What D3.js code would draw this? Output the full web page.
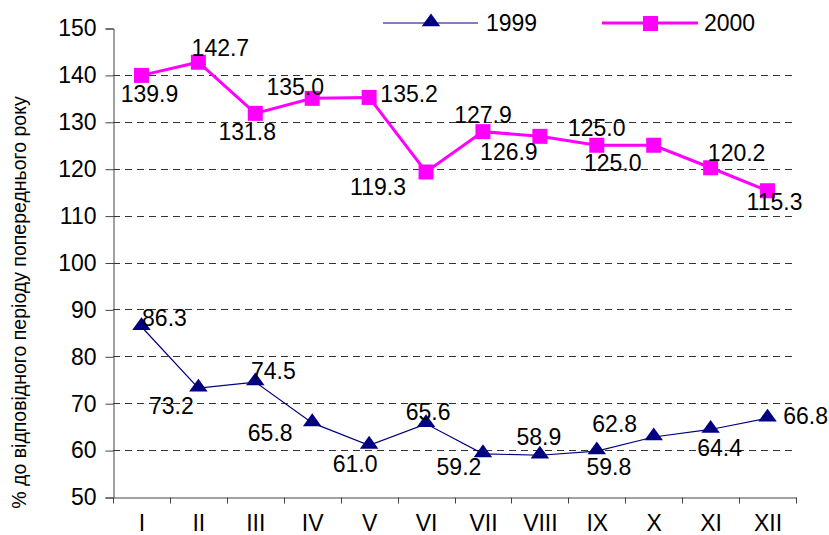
<!DOCTYPE html>
<html>
<head>
<meta charset="utf-8">
<script src="https://cdn.jsdelivr.net/npm/d3@7"></script>
<style>
  body { margin: 0; background: #fff; }
  text { font-family: "Liberation Sans", Arial, sans-serif; fill: #000; }
</style>
</head>
<body>
<svg id="vis"></svg>
<script>
const WIDTH = 829;
const HEIGHT = 535;

// дані
const months = ["I", "II", "III", "IV", "V", "VI", "VII", "VIII", "IX", "X", "XI", "XII"];
const values1999 = [86.3, 73.2, 74.5, 65.8, 61.0, 65.6, 59.2, 58.9, 59.8, 62.8, 64.4, 66.8];
const values2000 = [139.9, 142.7, 131.8, 135.0, 135.2, 119.3, 127.9, 126.9, 125.0, 125.0, 120.2, 115.3];
const yTicks = [50, 60, 70, 80, 90, 100, 110, 120, 130, 140, 150];
const gridTicks = [60, 70, 80, 90, 100, 110, 120, 130, 140];
const seriesNames = ["1999", "2000"];
const yTitle = "% до відповідного періоду попереднього року";

// зсуви підписів відносно точки (центр тексту)
const labelOff1999 = [[23, -9], [-27, 18], [18, -11], [-42, 10], [-14, 18], [2, -12], [-24, 13], [-1, -19], [12, 16], [-39, -13], [9, 18], [38, -2]];
const labelOff2000 = [[8, 18], [22, -15], [-8, 18], [-17, -12], [40, -4], [-48, 15], [0, -17], [-31, 15], [0, -18], [-41, 17], [26, -15], [7, 11]];

const FS = 23;
const margin = { left: 113, right: 33, top: 28, bottom: 38 };

const svg = d3.select("#vis")
    .attr("width", WIDTH)
    .attr("height", HEIGHT);

const x = d3.scaleBand()
    .domain(months)
    .range([margin.left, WIDTH - margin.right]);

const y = d3.scaleLinear()
    .domain([50, 150])
    .range([HEIGHT - margin.bottom, margin.top]);

const cx = d => x(d) + x.bandwidth() / 2;

// сітка
svg.append("g")
    .selectAll("line")
    .data(gridTicks)
    .join("line")
    .attr("x1", margin.left)
    .attr("x2", WIDTH - margin.right)
    .attr("y1", d => Math.round(y(d)) + 0.5)
    .attr("y2", d => Math.round(y(d)) + 0.5)
    .attr("stroke", "#333")
    .attr("stroke-width", 1)
    .attr("stroke-dasharray", "7,5");

// осі
const ejeY = d3.axisLeft(y).tickValues(yTicks).tickSize(8).tickPadding(9);
const gy = svg.append("g")
    .attr("transform", `translate(${margin.left + 0.5},0.5)`)
    .call(ejeY);
gy.select(".domain").attr("stroke", "#444");
gy.selectAll(".tick line").attr("stroke", "#444");
gy.selectAll("text").attr("font-size", FS).attr("font-family", "Liberation Sans, Arial, sans-serif");

const ejeX = d3.axisBottom(x).tickSize(0).tickPadding(17);
const gx = svg.append("g")
    .attr("transform", `translate(0.5,${Math.round(y(50)) + 0.5})`)
    .call(ejeX);
gx.select(".domain").attr("stroke", "#444");
gx.selectAll("text").attr("font-size", FS).attr("font-family", "Liberation Sans, Arial, sans-serif");
// риски між категоріями
gx.append("g")
    .selectAll("line")
    .data(months.concat(["end"]))
    .join("line")
    .attr("x1", (d, i) => Math.round(margin.left + i * x.bandwidth()))
    .attr("x2", (d, i) => Math.round(margin.left + i * x.bandwidth()))
    .attr("y1", 0)
    .attr("y2", 6)
    .attr("stroke", "#444");

// заголовок осі Y
svg.append("text")
    .attr("transform", `translate(26, ${(margin.top + HEIGHT - margin.bottom) / 2 + 40}) rotate(-90)`)
    .attr("text-anchor", "middle")
    .attr("font-size", 19.5)
    .text(yTitle);

const line = d3.line()
    .x((d, i) => cx(months[i]))
    .y(d => y(d));

// 2000
svg.append("path")
    .datum(values2000)
    .attr("d", line)
    .attr("fill", "none")
    .attr("stroke", "#ff00ff")
    .attr("stroke-width", 3);

// 1999
svg.append("path")
    .datum(values1999)
    .attr("d", line)
    .attr("fill", "none")
    .attr("stroke", "#000080")
    .attr("stroke-width", 1.2);

const tri = d3.symbol().type(d3.symbolTriangle).size(95);

svg.append("g")
    .selectAll("rect")
    .data(values2000)
    .join("rect")
    .attr("x", (d, i) => cx(months[i]) - 7.5)
    .attr("y", d => y(d) - 7.5)
    .attr("width", 15)
    .attr("height", 15)
    .attr("fill", "#ff00ff");

svg.append("g")
    .selectAll("path")
    .data(values1999)
    .join("path")
    .attr("d", tri)
    .attr("transform", (d, i) => `translate(${cx(months[i])},${y(d) - 1}) scale(1.25,1)`)
    .attr("fill", "#000080");

// підписи значень
function labels(vals, offs) {
    svg.append("g")
        .selectAll("text")
        .data(vals)
        .join("text")
        .attr("x", (d, i) => cx(months[i]) + offs[i][0])
        .attr("y", (d, i) => y(d) + offs[i][1])
        .attr("dy", "0.36em")
        .attr("text-anchor", "middle")
        .attr("font-size", FS)
        .text(d => d.toFixed(1));
}
labels(values2000, labelOff2000);
labels(values1999, labelOff1999);

// легенда
const leg = svg.append("g");
leg.append("line")
    .attr("x1", 383).attr("x2", 478).attr("y1", 23).attr("y2", 23)
    .attr("stroke", "#000080").attr("stroke-width", 1.2);
leg.append("path")
    .attr("d", tri)
    .attr("transform", "translate(431,22) scale(1.25,1)")
    .attr("fill", "#000080");
leg.append("text")
    .attr("x", 486).attr("y", 23).attr("dy", "0.36em")
    .attr("font-size", FS)
    .text(seriesNames[0]);

leg.append("line")
    .attr("x1", 602).attr("x2", 698).attr("y1", 23).attr("y2", 23)
    .attr("stroke", "#ff00ff").attr("stroke-width", 3);
leg.append("rect")
    .attr("x", 643).attr("y", 16).attr("width", 15).attr("height", 15)
    .attr("fill", "#ff00ff");
leg.append("text")
    .attr("x", 704).attr("y", 23).attr("dy", "0.36em")
    .attr("font-size", FS)
    .text(seriesNames[1]);
</script>
</body>
</html>
